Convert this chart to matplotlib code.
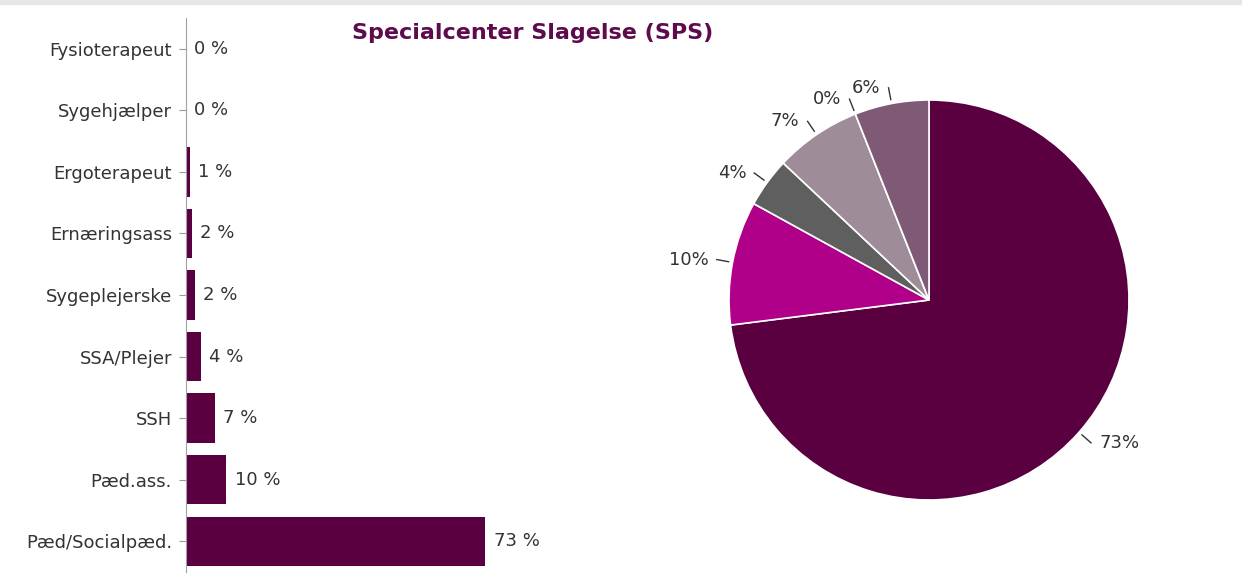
import numpy as np
import matplotlib
matplotlib.use("Agg")
import matplotlib.pyplot as plt
from matplotlib.patches import Rectangle

plt.rcParams["font.family"] = ["DejaVu Sans"]

# Data
categories = ["Fysioterapeut", "Sygehjælper", "Ergoterapeut", "Ernæringsass", "Sygeplejerske",
              "SSA/Plejer", "SSH", "Pæd.ass.", "Pæd/Socialpæd."]
shares = [0.0, 0.0, 0.9, 1.5, 2.1, 3.6, 7.1, 9.8, 73.0]

pie_values = [73, 10, 4, 7, 0, 6]
pie_colors = ["#5a0041", "#b0008a", "#5f5f5f", "#9e8d98", "#c9a0c0", "#7f5a76"]

bar_color = "#5a0041"
text_color = "#333333"

W, H = 1242, 576
fig = plt.figure(figsize=(W / 100, H / 100), dpi=100)

# grey band at the very top
fig.patches.append(Rectangle((0, 1 - 4 / H), 1, 4 / H, transform=fig.transFigure,
                             color="#e6e6e6", zorder=0))

# Bar chart
ax = fig.add_axes([186 / W, 1 - 572 / H, 410 / W, 554 / H])
y = np.arange(len(categories))
ax.barh(y, shares, height=0.8, color=bar_color)
ax.set_ylim(len(categories) - 0.5, -0.5)
ax.set_xlim(0, 100)
ax.set_yticks(y)
ax.set_yticklabels(categories, fontsize=13, color=text_color)
ax.tick_params(axis="y", length=5, color="#999999", pad=5)
ax.set_xticks([])
for s in ["top", "right", "bottom"]:
    ax.spines[s].set_visible(False)
ax.spines["left"].set_color("#a0a0a8")
for yi, v in zip(y, shares):
    ax.annotate(f"{v:.0f} %", (v, yi), xytext=(6, 0), textcoords="offset points",
                va="center", ha="left", fontsize=13, color=text_color)

# Pie chart
pax = fig.add_axes([729 / W, 1 - 500 / H, 400 / W, 400 / H])
wedges, _ = pax.pie(pie_values, colors=pie_colors, startangle=90, counterclock=False,
                    wedgeprops=dict(edgecolor="white", linewidth=1.2))
pax.set_xlim(-1, 1)
pax.set_ylim(-1, 1)
pax.set_aspect("equal")
for w, v in zip(wedges, pie_values):
    ang = np.deg2rad((w.theta1 + w.theta2) / 2)
    cx, cy = np.cos(ang), np.sin(ang)
    pax.plot([1.02 * cx, 1.08 * cx], [1.02 * cy, 1.08 * cy], color="#333333", lw=1,
             clip_on=False)
    side = 1 if cx >= 0 else -1
    pax.text(1.08 * cx + side * 0.04, 1.08 * cy, f"{v}%", ha="left" if side > 0 else "right",
             va="center", fontsize=13, color=text_color)

fig.text(533 / W, 1 - 33 / H, "Specialcenter Slagelse (SPS)", ha="center", va="center",
         fontsize=16, fontweight="bold", color="#5e0a4c")

fig.savefig("out.png", dpi=100)
